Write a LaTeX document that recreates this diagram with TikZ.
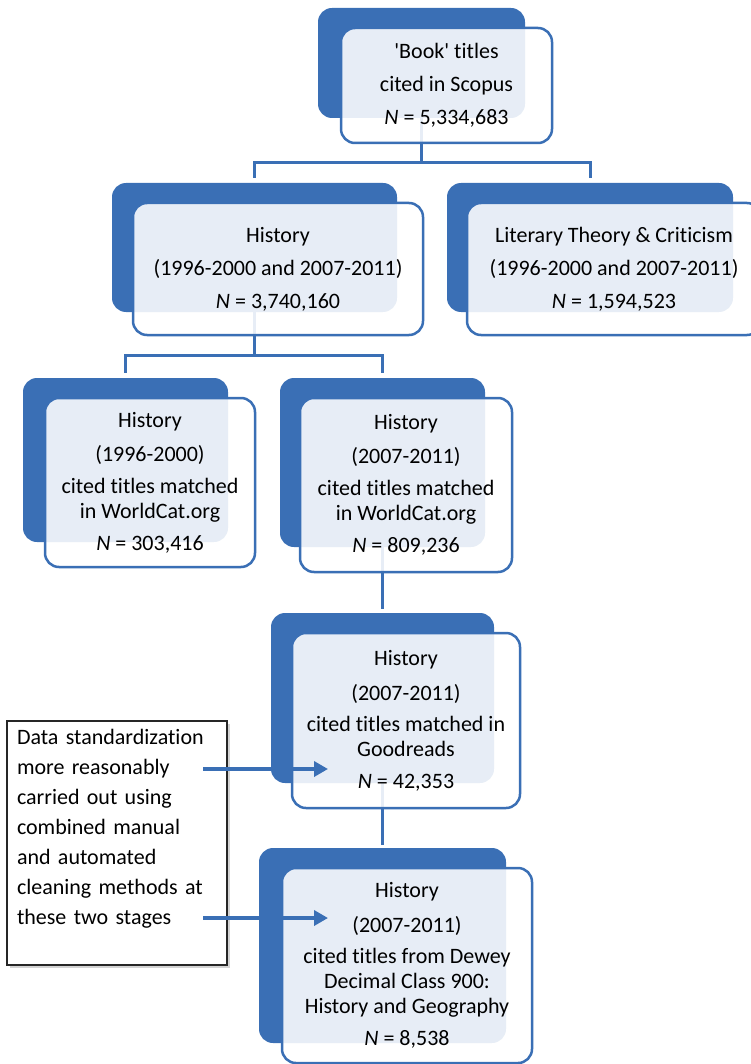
\documentclass[tikz,border=0pt]{standalone}
\usepackage{fontspec}
\setmainfont{Carlito}[Ligatures={TeX,NoCommon}]
\usetikzlibrary{arrows.meta,shadows,backgrounds}

\definecolor{boxblue}{HTML}{3A6FB5}
\newcommand\boxfont{\fontsize{22}{25}\selectfont}
\newcommand\notefont{\fontsize{22}{30}\selectfont}

\begin{document}
\begin{tikzpicture}[x=1pt, y=-1pt,
    backbox/.style={fill=boxblue, rounded corners=14pt, inner sep=0pt},
    frontbox/.style={draw=boxblue, line width=2.5pt, fill=white, fill opacity=0.88,
        text opacity=1, rounded corners=14pt, inner sep=0pt, align=center, font=\boxfont},
    link/.style={draw=boxblue, line width=3pt},
    notebox/.style={draw=black!85, line width=2pt, fill=white, inner xsep=10pt,
        text width=200pt, minimum height=244pt, align=left, font=\notefont,
        drop shadow={shadow xshift=2.5pt, shadow yshift=-2.5pt, opacity=0.35}},
    push/.style={draw=boxblue, line width=4pt, -{Triangle[length=14pt,width=15pt]}}]
    \useasboundingbox (0,0) rectangle (750,1064);

    % dark boxes behind
    \node[backbox, minimum width=207pt, minimum height=110pt] at (421.5,63) (scopusbk) {};
    \node[backbox, minimum width=285pt, minimum height=129pt] at (254.5,247.5) (histbk) {};
    \node[backbox, minimum width=286pt, minimum height=129pt] at (590,247.5) (litbk) {};
    \node[backbox, minimum width=205pt, minimum height=164pt] at (125.5,460) (histAbk) {};
    \node[backbox, minimum width=205pt, minimum height=169pt] at (382.5,462.5) (histBbk) {};
    \node[backbox, minimum width=223pt, minimum height=170pt] at (382.5,698) (goodbk) {};
    \node[backbox, minimum width=247pt, minimum height=195pt] at (382.5,945.5) (deweybk) {};

    % front boxes with the counts
    \node[frontbox, minimum width=211pt, minimum height=115pt] at (446.5,85.5) (scopus)
        {\textquotesingle Book\textquotesingle\ titles\\[8pt] cited in Scopus\\[8pt] {\itshape N} = 5,334,683};
    \node[frontbox, minimum width=290pt, minimum height=132pt] at (278,269) (hist)
        {History\\[8pt] (1996-2000 and 2007-2011)\\[8pt] {\itshape N} = 3,740,160};
    \node[frontbox, minimum width=294pt, minimum height=132pt] at (614,269) (lit)
        {Literary Theory \& Criticism\\[8pt] (1996-2000 and 2007-2011)\\[8pt] {\itshape N} = 1,594,523};
    \node[frontbox, minimum width=210pt, minimum height=169pt] at (150,482.5) (histA)
        {History\\[9pt] (1996-2000)\\[7pt] cited titles matched\\ in WorldCat.org\\[7pt] {\itshape N} = 303,416};
    \node[frontbox, minimum width=212pt, minimum height=174pt] at (406,485) (histB)
        {History\\[9pt] (2007-2011)\\[7pt] cited titles matched\\ in WorldCat.org\\[7pt] {\itshape N} = 809,236};
    \node[frontbox, minimum width=228pt, minimum height=175pt] at (406,720.5) (good)
        {History\\[10pt] (2007-2011)\\[6pt] cited titles matched in\\ Goodreads\\[7pt] {\itshape N} = 42,353};
    \node[frontbox, minimum width=250pt, minimum height=195pt] at (407,965.5) (dewey)
        {History\\[10pt] (2007-2011)\\[6pt] cited titles from Dewey\\ Decimal Class 900:\\ History and Geography\\[7pt] {\itshape N} = 8,538};

    \node[notebox] at (117,843) (note)
        {Data standardization\\ more reasonably\\ carried out using\\ combined manual\\ and automated\\ cleaning methods at\\ these two stages\\[3pt] \mbox{}};

    \coordinate (tailA) at (203,769);
    \coordinate (tipA) at (328,769);
    \coordinate (tailB) at (203,918);
    \coordinate (tipB) at (328,918);
    \draw[push] (tailA) -- (tipA);
    \draw[push] (tailB) -- (tipB);

    \begin{scope}[on background layer]
        \draw[link] (scopusbk.south) -- ++(0,44) coordinate (splitA);
        \draw[link, shorten >=5pt] (splitA) -| (histbk.north);
        \draw[link, shorten >=5pt] (splitA) -| (litbk.north);
        \draw[link] (histbk.south) -- ++(0,43) coordinate (splitB);
        \draw[link, shorten >=5pt] (splitB) -| (histAbk.north);
        \draw[link, shorten >=5pt] (splitB) -| (histBbk.north);
        \draw[link, shorten >=4pt] (histBbk.south) -- (goodbk.north);
        \draw[link, shorten >=3pt] (goodbk.south) -- (deweybk.north);
    \end{scope}
\end{tikzpicture}
\end{document}
